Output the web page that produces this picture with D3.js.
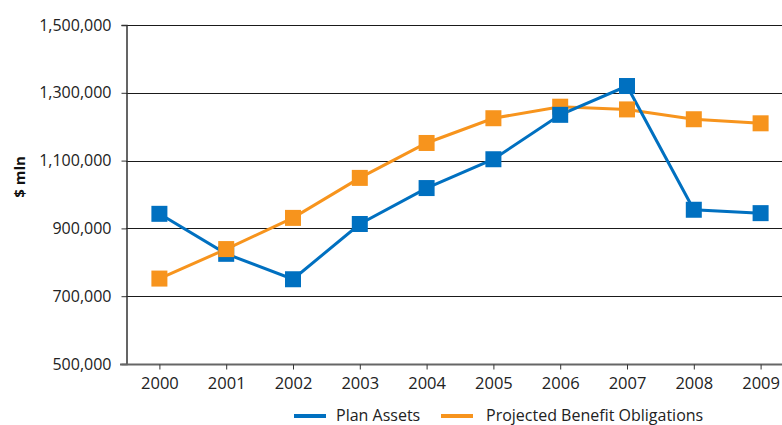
<!DOCTYPE html>
<html>
<head>
<meta charset="utf-8">
<script src="https://cdn.jsdelivr.net/npm/d3@7"></script>
<style>
  html, body { margin: 0; padding: 0; background: #fff; }
  svg { display: block; font-family: "Open Sans", "DejaVu Sans", sans-serif; }
</style>
</head>
<body>
<svg id="chart" width="782" height="425"></svg>
<script>
// Pension plan assets vs projected benefit obligations, $ mln
const years = ["2000","2001","2002","2003","2004","2005","2006","2007","2008","2009"];
const planAssets = [943000, 825000, 750000, 913000, 1019000, 1104000, 1235000, 1320000, 955000, 945000];
const benefitObligations = [752000, 839000, 931000, 1049000, 1152000, 1225000, 1259000, 1251000, 1222000, 1210000];
const yTicks = [500000, 700000, 900000, 1100000, 1300000, 1500000];
const seriesNames = ["Plan Assets", "Projected Benefit Obligations"];
const colors = ["#0070c0", "#f7941d"];

const svg = d3.select("#chart");
const plotLeft = 126, plotRight = 794, plotTop = 25, plotBottom = 364;

const x = d3.scalePoint().domain(years).range([plotLeft, plotRight]).padding(0.5);
const y = d3.scaleLinear().domain([500000, 1500000]).range([plotBottom, plotTop]);
const fmt = d3.format(",");

// horizontal gridlines
svg.append("g").selectAll("line").data(yTicks.slice(1)).join("line")
  .attr("x1", plotLeft).attr("x2", 782)
  .attr("y1", d => Math.round(y(d)) + 0.5).attr("y2", d => Math.round(y(d)) + 0.5)
  .attr("stroke", "#1a1a1a").attr("stroke-width", 1);

// y axis
const yAxis = svg.append("g").attr("transform", `translate(${plotLeft + 0.5},0)`)
  .call(d3.axisLeft(y).tickValues(yTicks).tickFormat(fmt).tickSize(5).tickPadding(10));
yAxis.select(".domain").attr("stroke", "#333").attr("stroke-width", 1.5);
yAxis.selectAll(".tick line").attr("stroke", "#333");
yAxis.selectAll("text").attr("font-size", 16).attr("fill", "#222")
  .attr("font-family", "'Open Sans', sans-serif");

// x axis
const xAxis = svg.append("g").attr("transform", `translate(0,${plotBottom + 0.5})`)
  .call(d3.axisBottom(x).tickSize(5).tickPadding(8).tickSizeOuter(0));
xAxis.select(".domain").attr("stroke", "#666").attr("stroke-width", 2)
  .attr("d", `M${plotLeft - 6},0H782`);
xAxis.selectAll(".tick line").attr("stroke", "#333");
xAxis.selectAll("text").attr("font-size", 16.5).attr("fill", "#222")
  .attr("font-family", "'Open Sans', sans-serif");

// y axis title
svg.append("text")
  .attr("transform", `translate(25,177) rotate(-90)`)
  .attr("text-anchor", "middle")
  .attr("font-size", 15).attr("font-weight", "bold").attr("fill", "#111")
  .text("$ mln");

// series lines, then markers
const series = [planAssets, benefitObligations];
const line = d3.line().x((d, i) => x(years[i])).y(d => y(d));
const ms = 16;
const lineLayer = svg.append("g");
const markerLayer = svg.append("g");
[1, 0].forEach(si => {
  lineLayer.append("path").datum(series[si]).attr("d", line)
    .attr("fill", "none").attr("stroke", colors[si]).attr("stroke-width", 3);
});
const markers = [1, 0].map(si =>
  markerLayer.append("g").selectAll("rect").data(series[si]).join("rect")
    .attr("x", (d, i) => x(years[i]) - ms / 2)
    .attr("y", d => y(d) - ms / 2)
    .attr("width", ms).attr("height", ms)
    .attr("fill", colors[si])
);
// the 2001 obligations marker sits above the assets marker
markerLayer.append(() => markers[0].filter((d, i) => years[i] === "2001").remove().node());

// legend
const legend = svg.append("g");
const legendItems = [
  { name: seriesNames[0], color: colors[0], x0: 294, tx: 336 },
  { name: seriesNames[1], color: colors[1], x0: 441, tx: 486 }
];
legendItems.forEach(it => {
  legend.append("line")
    .attr("x1", it.x0).attr("x2", it.x0 + 32).attr("y1", 416).attr("y2", 416)
    .attr("stroke", it.color).attr("stroke-width", 4);
  legend.append("text")
    .attr("x", it.tx).attr("y", 421)
    .attr("font-size", 16).attr("fill", "#222")
    .text(it.name);
});
</script>
</body>
</html>
